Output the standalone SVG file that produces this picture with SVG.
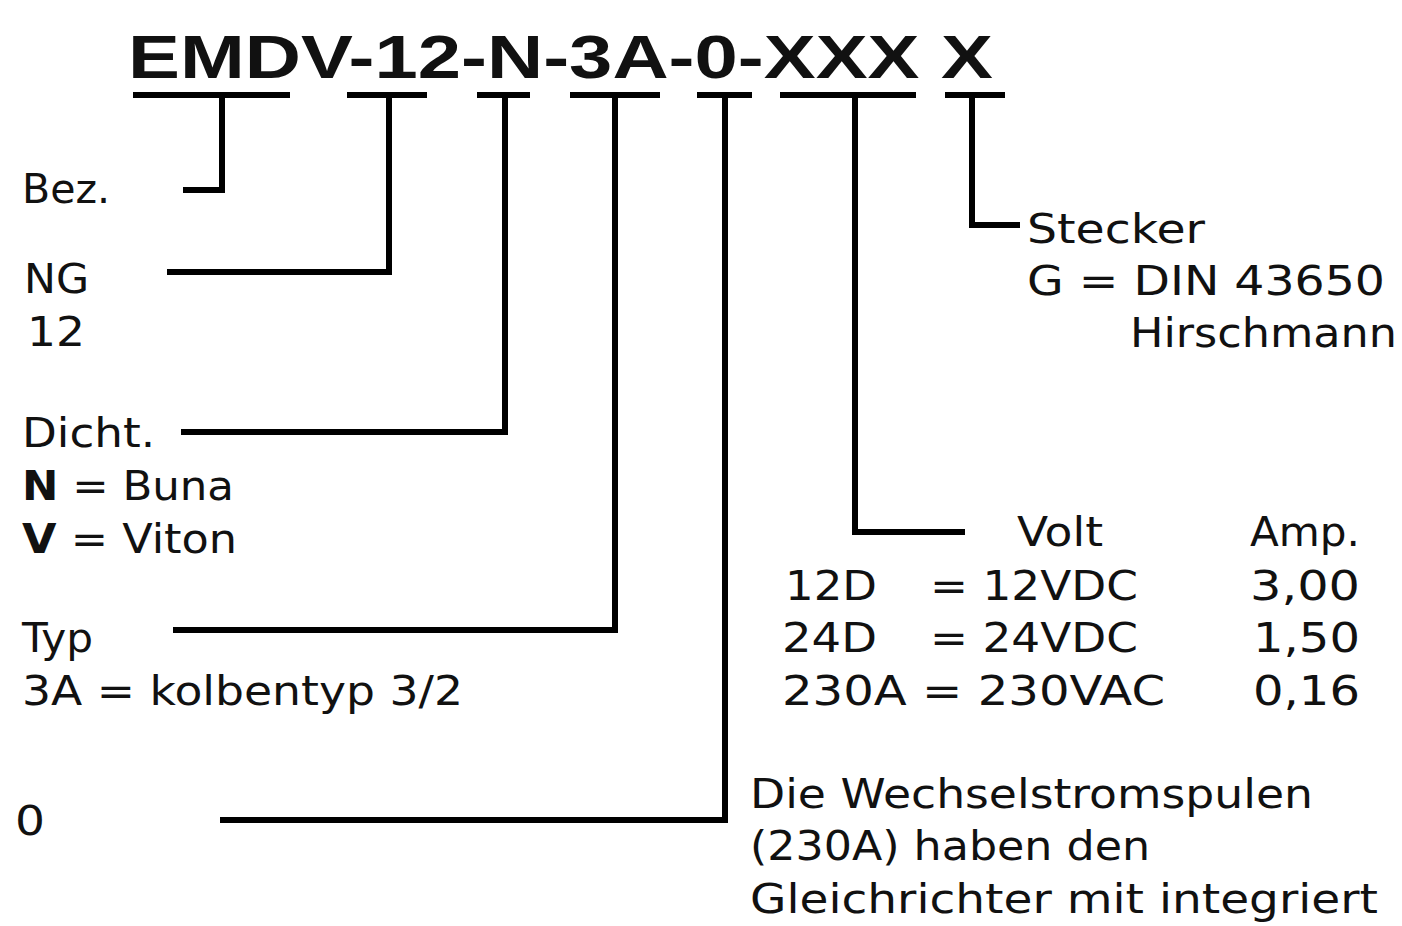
<svg xmlns="http://www.w3.org/2000/svg" width="1402" height="926" viewBox="0 0 1402 926">
<style>
.t{font-family:"DejaVu Sans","Liberation Sans",sans-serif;font-size:40px;fill:#111}
.title{font-family:"Liberation Sans","DejaVu Sans",sans-serif;font-weight:bold;font-size:62px;fill:#111}
.ln{fill:none;stroke:#000;stroke-width:6;stroke-linecap:butt;stroke-linejoin:miter}
</style>
<rect width="1402" height="926" fill="#fff"/>
<g id="title">
<text class="title" x="128" y="78" textLength="865" lengthAdjust="spacingAndGlyphs">EMDV-12-N-3A-0-XXX X</text>
</g>
<g id="connectors">
<path class="ln" d="M133 95H290M347 95H427M477 95H530M570 95H660M697 95H752M780 95H916M945 95H1005"/>
<path class="ln" d="M222 95V190H183"/>
<path class="ln" d="M389 95V272H167"/>
<path class="ln" d="M505 95V432H181"/>
<path class="ln" d="M615 95V630H173"/>
<path class="ln" d="M725 95V820H220"/>
<path class="ln" d="M855 95V532H965"/>
<path class="ln" d="M972 95V225H1020"/>
</g>
<g id="bez"><text class="t" x="22" y="203" textLength="88" lengthAdjust="spacingAndGlyphs">Bez.</text></g>
<g id="ng">
<text class="t" x="24" y="293" textLength="65" lengthAdjust="spacingAndGlyphs">NG</text>
<text class="t" x="27" y="346" textLength="58" lengthAdjust="spacingAndGlyphs">12</text>
</g>
<g id="dicht">
<text class="t" x="22" y="447" textLength="133" lengthAdjust="spacingAndGlyphs">Dicht.</text>
<text class="t" x="22" y="500" textLength="212" lengthAdjust="spacingAndGlyphs"><tspan font-weight="bold">N</tspan> = Buna</text>
<text class="t" x="22" y="553" textLength="215" lengthAdjust="spacingAndGlyphs"><tspan font-weight="bold">V</tspan> = Viton</text>
</g>
<g id="typ">
<text class="t" x="22" y="652" textLength="71" lengthAdjust="spacingAndGlyphs">Typ</text>
<text class="t" x="22" y="705" textLength="441" lengthAdjust="spacingAndGlyphs">3A = kolbentyp 3/2</text>
</g>
<g id="zero"><text class="t" x="15" y="835" textLength="30" lengthAdjust="spacingAndGlyphs">0</text></g>
<g id="stecker">
<text class="t" x="1027" y="243" textLength="178" lengthAdjust="spacingAndGlyphs">Stecker</text>
<text class="t" x="1027" y="295" textLength="358" lengthAdjust="spacingAndGlyphs">G = DIN 43650</text>
<text class="t" x="1130" y="347" textLength="267" lengthAdjust="spacingAndGlyphs">Hirschmann</text>
</g>
<g id="volt">
<text class="t" x="1017" y="546" textLength="86" lengthAdjust="spacingAndGlyphs">Volt</text>
<text class="t" x="1250" y="546" textLength="110" lengthAdjust="spacingAndGlyphs">Amp.</text>
<text class="t" x="785" y="600" textLength="92" lengthAdjust="spacingAndGlyphs">12D</text>
<text class="t" x="930" y="600" textLength="208" lengthAdjust="spacingAndGlyphs">= 12VDC</text>
<text class="t" x="1250" y="600" textLength="110" lengthAdjust="spacingAndGlyphs">3,00</text>
<text class="t" x="782" y="652" textLength="95" lengthAdjust="spacingAndGlyphs">24D</text>
<text class="t" x="930" y="652" textLength="208" lengthAdjust="spacingAndGlyphs">= 24VDC</text>
<text class="t" x="1253" y="652" textLength="107" lengthAdjust="spacingAndGlyphs">1,50</text>
<text class="t" x="782" y="705" textLength="383" lengthAdjust="spacingAndGlyphs">230A = 230VAC</text>
<text class="t" x="1253" y="705" textLength="107" lengthAdjust="spacingAndGlyphs">0,16</text>
</g>
<g id="note">
<text class="t" x="750" y="808" textLength="563" lengthAdjust="spacingAndGlyphs">Die Wechselstromspulen</text>
<text class="t" x="750" y="860" textLength="400" lengthAdjust="spacingAndGlyphs">(230A) haben den</text>
<text class="t" x="750" y="913" textLength="628" lengthAdjust="spacingAndGlyphs">Gleichrichter mit integriert</text>
</g>
</svg>
